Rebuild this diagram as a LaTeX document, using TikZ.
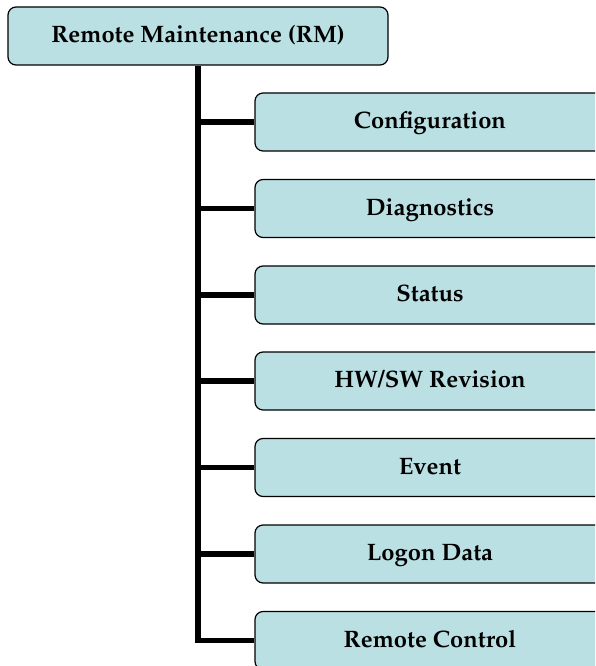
\documentclass[tikz,border=0pt]{standalone}
\usepackage[T1]{fontenc}
\renewcommand{\rmdefault}{ppl}
\begin{document}
\begin{tikzpicture}[x=1pt,y=-1pt,
  box/.style={draw=black, line width=1.2pt, fill=boxfill, rounded corners=8pt,
    minimum height=58pt, inner sep=0pt, text height=17pt, text depth=4pt,
    font=\fontsize{23.8}{26}\selectfont\bfseries},
  rootbox/.style={box, minimum width=380pt},
  itembox/.style={box, minimum width=350pt},
  link/.style={line width=5.5pt}]
\definecolor{boxfill}{HTML}{BAE0E3}
\useasboundingbox (0,0) rectangle (595,666);
\clip (0,0) rectangle (595,666);
\node[rootbox] (rm) at (198,36) {Remote Maintenance (RM)};
\node[itembox] (c1) at (430,122) {Configuration};
\node[itembox] (c2) at (430,208.5) {Diagnostics};
\node[itembox] (c3) at (430,295) {Status};
\node[itembox] (c4) at (430,381) {HW/SW Revision};
\node[itembox] (c5) at (430,467.5) {Event};
\node[itembox] (c6) at (430,554) {Logon Data};
\node[itembox] (c7) at (430,640.5) {Remote Control};
\draw[link] (rm.south) |- (c7.west);
\foreach \n in {c1,c2,c3,c4,c5,c6}
  \draw[link] (rm.south |- \n.west) -- (\n.west);
\end{tikzpicture}
\end{document}
